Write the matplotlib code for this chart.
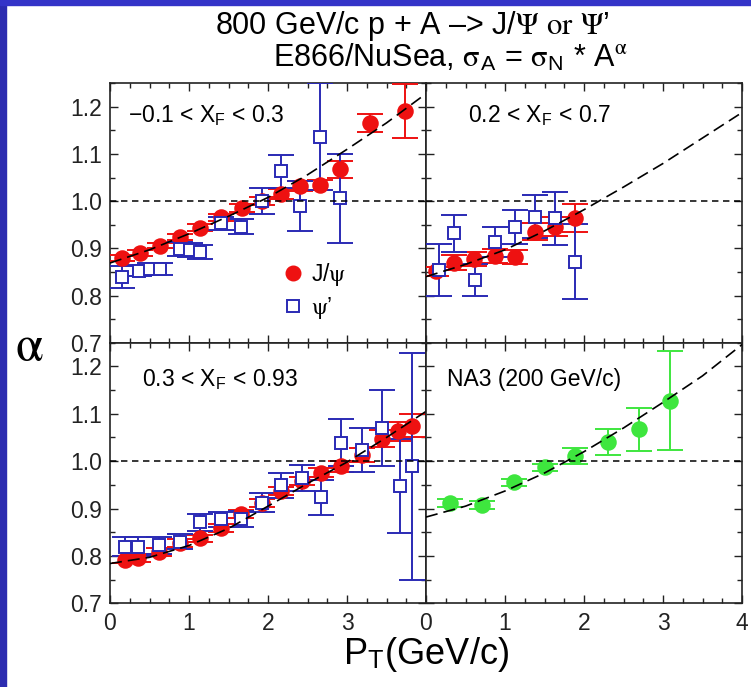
import numpy as np
import matplotlib
matplotlib.use("Agg")
import matplotlib.pyplot as plt
from matplotlib.lines import Line2D
from matplotlib.patches import Rectangle
from matplotlib.ticker import MultipleLocator

plt.rcParams['font.family'] = ['Liberation Sans', 'DejaVu Sans']
plt.rcParams['mathtext.fontset'] = 'stix'

# ---- data ----
# -0.1 < xF < 0.3
tl_jpsi_pt = [0.15, 0.38, 0.63, 0.89, 1.14, 1.40, 1.67, 1.92, 2.16, 2.41, 2.66, 2.91, 3.29, 3.73]
tl_jpsi_a = [0.879, 0.890, 0.906, 0.924, 0.944, 0.966, 0.986, 1.000, 1.015, 1.032, 1.034, 1.068, 1.165, 1.191]
tl_jpsi_e = [0.006, 0.006, 0.006, 0.006, 0.007, 0.007, 0.008, 0.009, 0.010, 0.011, 0.011, 0.018, 0.019, 0.057]
tl_psip_pt = [0.15, 0.37, 0.51, 0.63, 0.89, 1.01, 1.14, 1.40, 1.66, 1.92, 2.16, 2.41, 2.66, 2.91]
tl_psip_a = [0.840, 0.853, 0.856, 0.856, 0.898, 0.897, 0.892, 0.953, 0.946, 1.000, 1.063, 0.990, 1.137, 1.006]
tl_psip_e = [0.023, 0.012, 0.012, 0.012, 0.015, 0.015, 0.015, 0.014, 0.016, 0.027, 0.035, 0.053, 0.114, 0.095]

# 0.2 < xF < 0.7
tr_jpsi_pt = [0.13, 0.35, 0.61, 0.87, 1.13, 1.38, 1.63, 1.89]
tr_jpsi_a = [0.851, 0.870, 0.877, 0.884, 0.882, 0.935, 0.946, 0.964]
tr_jpsi_e = [0.010, 0.015, 0.015, 0.015, 0.015, 0.018, 0.020, 0.030]
tr_psip_pt = [0.16, 0.35, 0.62, 0.87, 1.13, 1.38, 1.63, 1.89]
tr_psip_a = [0.854, 0.932, 0.833, 0.913, 0.946, 0.967, 0.964, 0.872]
tr_psip_e = [0.055, 0.039, 0.034, 0.032, 0.036, 0.046, 0.056, 0.080]

# 0.3 < xF < 0.93
bl_jpsi_pt = [0.19, 0.36, 0.62, 0.89, 1.14, 1.40, 1.66, 1.92, 2.16, 2.43, 2.67, 2.93, 3.19, 3.44, 3.65, 3.82]
bl_jpsi_a = [0.792, 0.796, 0.808, 0.827, 0.837, 0.859, 0.888, 0.912, 0.937, 0.958, 0.976, 0.989, 1.013, 1.047, 1.063, 1.075]
bl_jpsi_e = [0.008, 0.008, 0.008, 0.008, 0.008, 0.008, 0.008, 0.008, 0.008, 0.009, 0.010, 0.012, 0.015, 0.018, 0.020, 0.025]
bl_psip_pt = [0.19, 0.36, 0.62, 0.89, 1.14, 1.40, 1.66, 1.92, 2.16, 2.43, 2.67, 2.93, 3.19, 3.44, 3.67, 3.82]
bl_psip_a = [0.819, 0.819, 0.822, 0.830, 0.871, 0.877, 0.877, 0.912, 0.949, 0.964, 0.924, 1.039, 1.024, 1.070, 0.947, 0.989]
bl_psip_e = [0.020, 0.020, 0.018, 0.016, 0.018, 0.016, 0.017, 0.020, 0.027, 0.027, 0.037, 0.050, 0.046, 0.080, 0.099, 0.240]

# NA3 200 GeV/c
na3_pt = [0.30, 0.71, 1.11, 1.50, 1.89, 2.30, 2.70, 3.09]
na3_a = [0.912, 0.907, 0.955, 0.987, 1.010, 1.040, 1.067, 1.128]
na3_e = [0.008, 0.008, 0.008, 0.008, 0.017, 0.028, 0.045, 0.104]

# dashed fit curves, read at pT = 0, 0.5, ..., 4
fit_pt = [0.0, 0.5, 1.0, 1.5, 2.0, 2.5, 3.0, 3.5, 4.0]
fit_tl = [0.869, 0.897, 0.931, 0.968, 1.008, 1.056, 1.110, 1.166, 1.228]
fit_tr = [0.840, 0.866, 0.897, 0.937, 0.982, 1.030, 1.080, 1.134, 1.188]
fit_bl = [0.784, 0.797, 0.822, 0.858, 0.905, 0.953, 0.998, 1.050, 1.105]
fit_br = [0.882, 0.905, 0.937, 0.975, 1.020, 1.070, 1.124, 1.180, 1.246]

RED = '#ee1111'
BLUE = '#2a2ab4'
GREEN = '#3ee63e'

W, H = 751, 687
fig = plt.figure(figsize=(W / 100, H / 100), dpi=100)
fig.patch.set_facecolor('white')

# blue slide frame (left and top strips)
fig.add_artist(Rectangle((0, 0), 6 / W, 1, transform=fig.transFigure, color='#2c2cb0', zorder=10))
fig.add_artist(Rectangle((0, 1 - 5 / H), 1, 5 / H, transform=fig.transFigure, color='#3434c8', zorder=10))

x0, xm, x1 = 110, 426, 742
y_top, y_mid, y_bot = 83.3, 342.7, 603.3

def box(l, r, t, b):
    return [l / W, 1 - b / H, (r - l) / W, (b - t) / H]

ax_tl = fig.add_axes(box(x0, xm, y_top, y_mid))
ax_tr = fig.add_axes(box(xm, x1, y_top, y_mid))
ax_bl = fig.add_axes(box(x0, xm, y_mid, y_bot))
ax_br = fig.add_axes(box(xm, x1, y_mid, y_bot))

def style(ax, ylab, xlab):
    ax.set_xlim(0, 4)
    ax.set_ylim(0.7, 1.25)
    ax.xaxis.set_major_locator(MultipleLocator(1))
    ax.xaxis.set_minor_locator(MultipleLocator(0.25))
    ax.yaxis.set_major_locator(MultipleLocator(0.1))
    ax.yaxis.set_minor_locator(MultipleLocator(0.05))
    ax.tick_params(which='both', direction='in', top=True, right=True, width=1.0, colors='#222222')
    ax.tick_params(which='major', length=6, labelsize=16.5, pad=6)
    ax.tick_params(which='minor', length=3.5)
    for s in ax.spines.values():
        s.set_linewidth(1.2)
        s.set_color('#222222')
    if ylab:
        ax.set_yticks([0.7, 0.8, 0.9, 1.0, 1.1, 1.2])
        ax.set_yticklabels(['0.7', '0.8', '0.9', '1.0', '1.1', '1.2'])
    else:
        ax.tick_params(labelleft=False)
    if xlab:
        ax.set_xticks(xlab)
        ax.set_xticklabels([str(v) for v in xlab])
    else:
        ax.tick_params(labelbottom=False)
    ax.axhline(1.0, color='black', lw=1.1, dashes=(4.2, 3.0), zorder=6)

style(ax_tl, True, None)
style(ax_tr, False, None)
style(ax_bl, True, [0, 1, 2, 3])
style(ax_br, False, [0, 1, 2, 3, 4])

def draw(ax, pt, a, e, color, marker, face):
    ax.errorbar(pt, a, yerr=e, fmt=marker, color=color, mfc=face, mec=color,
                ms=10.5 if marker == 'o' else 8.5, mew=1.4, elinewidth=1.4,
                capsize=9.5, capthick=1.4, zorder=3)

draw(ax_tl, tl_jpsi_pt, tl_jpsi_a, tl_jpsi_e, RED, 'o', RED)
draw(ax_tl, tl_psip_pt, tl_psip_a, tl_psip_e, BLUE, 's', 'white')
draw(ax_tr, tr_jpsi_pt, tr_jpsi_a, tr_jpsi_e, RED, 'o', RED)
draw(ax_tr, tr_psip_pt, tr_psip_a, tr_psip_e, BLUE, 's', 'white')
draw(ax_bl, bl_jpsi_pt, bl_jpsi_a, bl_jpsi_e, RED, 'o', RED)
draw(ax_bl, bl_psip_pt, bl_psip_a, bl_psip_e, BLUE, 's', 'white')
draw(ax_br, na3_pt, na3_a, na3_e, GREEN, 'o', GREEN)

for ax, fy in [(ax_tl, fit_tl), (ax_tr, fit_tr), (ax_bl, fit_bl), (ax_br, fit_br)]:
    ax.plot(fit_pt, fy, color='black', lw=1.2, dashes=(7.2, 3.6), zorder=7)

# bin labels
lab = dict(fontsize=16.5, va='center', ha='left')
ax_tl.text(0.057, 0.878, '\u22120.1 < X$_\\mathregular{F}$ < 0.3', transform=ax_tl.transAxes, **lab)
ax_tr.text(0.133, 0.878, '0.2 < X$_\\mathregular{F}$ < 0.7', transform=ax_tr.transAxes, **lab)
ax_bl.text(0.10, 0.861, '0.3 < X$_\\mathregular{F}$ < 0.93', transform=ax_bl.transAxes, **lab)
ax_br.text(0.065, 0.857, 'NA3 (200 GeV/c)', transform=ax_br.transAxes, **lab)

# legend in first panel
handles = [Line2D([], [], ls='none', marker='o', ms=10.5, color=RED),
           Line2D([], [], ls='none', marker='s', ms=8.5, mfc='white', mec=BLUE, mew=1.4)]
ax_tl.legend(handles, ['J/$\\mathrm{\\psi}$', '$\\mathrm{\\psi}$\u2019'], loc='center left',
             bbox_to_anchor=(0.515, 0.198), frameon=False, fontsize=16.5,
             handlelength=0.8, handletextpad=0.35, labelspacing=0.3, borderpad=0)

# titles and axis labels
fig.text(412 / W, 1 - 26 / H, '800 GeV/c p + A \u2013> J/$\\mathrm{\\Psi}$ $\\mathrm{or}$ $\\mathrm{\\Psi}$\u2019',
         ha='center', va='center', fontsize=22)
fig.text(450 / W, 1 - 58 / H,
         'E866/NuSea, $\\mathrm{\\sigma}_\\mathregular{A}$ = $\\mathrm{\\sigma}_\\mathregular{N}$ * A$^\\mathrm{\\alpha}$',
         ha='center', va='center', fontsize=22)
fig.text(29 / W, 1 - 348 / H, '$\\mathrm{\\alpha}$', ha='center', va='center', fontsize=36)
fig.text(426 / W, 1 - 655 / H, 'P$_\\mathregular{T}$(GeV/c)', ha='center', va='center', fontsize=26)

fig.savefig('out.png', dpi=100, facecolor='white')
